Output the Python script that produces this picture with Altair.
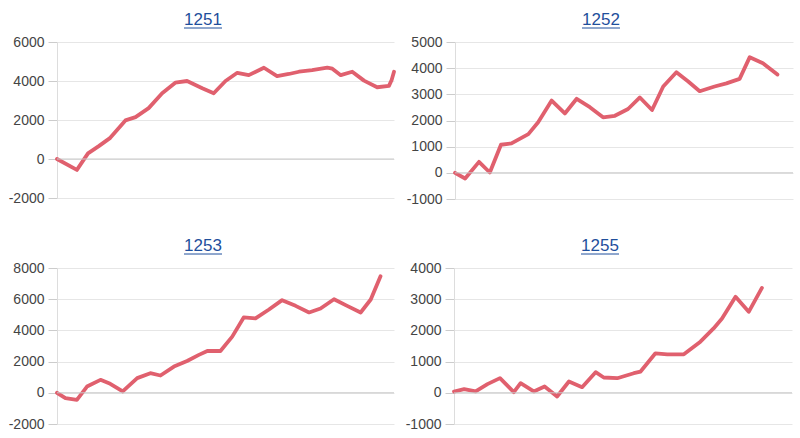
import altair as alt
import pandas as pd

# ---- data (x = trade index, y = cumulative profit) ----
x_1251 = [0, 5.9, 9.2, 12.4, 15.8, 20.3, 23.3, 27.2, 31.2, 35.1, 38.6, 43.1, 46.5, 50.0, 53.5,
          56.9, 61.4, 65.3, 68.8, 71.8, 75.7, 80.2, 81.7, 84.2, 87.6, 91.1, 95.0, 98.5, 99.3, 100]
y_1251 = [0, -560, 290, 660, 1085, 1980, 2150, 2610, 3370, 3915, 4000, 3630, 3370, 4000, 4420,
          4300, 4680, 4250, 4360, 4475, 4560, 4680, 4630, 4300, 4475, 4020, 3680, 3750, 4050, 4475]

x_1252 = [0, 3.0, 7.1, 10.3, 13.6, 16.7, 21.7, 24.6, 28.6, 32.5, 36.0, 39.9, 43.8, 47.3, 51.2,
          54.7, 58.3, 61.6, 65.5, 69.0, 72.4, 76.8, 80.3, 84.2, 87.2, 91.1, 95.4]
y_1252 = [0, -217, 420, 13, 1073, 1124, 1480, 1930, 2760, 2270, 2830, 2510, 2120, 2180, 2440,
          2880, 2400, 3300, 3845, 3490, 3120, 3300, 3420, 3590, 4420, 4190, 3755]

x_1253 = [0, 2.5, 5.9, 8.9, 12.9, 15.8, 19.5, 23.8, 27.7, 30.7, 34.7, 38.6, 42.1, 44.6, 48.5,
          52.0, 55.4, 58.9, 62.9, 66.8, 70.8, 74.8, 78.2, 82.2, 86.1, 90.1, 93.1, 96.0]
y_1253 = [0, -340, -450, 400, 830, 575, 85, 940, 1255, 1110, 1680, 2040, 2430, 2680, 2680,
          3600, 4830, 4770, 5340, 5940, 5575, 5150, 5405, 6000, 5575, 5150, 5980, 7470]

x_1255 = [0, 3.0, 6.4, 9.9, 13.6, 17.7, 19.7, 23.6, 26.8, 30.5, 34.0, 37.9, 41.9, 44.3, 48.3,
          53.2, 55.2, 59.6, 63.1, 68.0, 72.9, 76.8, 79.3, 83.3, 87.2, 91.1]
y_1255 = [40, 117, 43, 277, 470, 21, 309, 43, 202, -117, 362, 181, 660, 490, 468,
          628, 681, 1266, 1234, 1234, 1638, 2064, 2383, 3075, 2596, 3362]

panels = [
    ("1251", x_1251, y_1251, [-2000, 6000], [-2000, 0, 2000, 4000, 6000], 337, 156),
    ("1252", x_1252, y_1252, [-1000, 5000], [-1000, 0, 1000, 2000, 3000, 4000, 5000], 338, 157),
    ("1253", x_1253, y_1253, [-2000, 8000], [-2000, 0, 2000, 4000, 6000, 8000], 337, 156),
    ("1255", x_1255, y_1255, [-1000, 4000], [-1000, 0, 1000, 2000, 3000, 4000], 338, 156),
]

LINE = "#e0606e"
TITLE = "#1f4f9c"
FONT = "Liberation Sans"


def panel(name, xs, ys, dom, ticks, w, h):
    df = pd.DataFrame({"x": xs, "y": ys})
    yaxis = alt.Axis(values=ticks, title=None,
                     labelExpr="datum.value + ''",
                     labelFont=FONT, labelFontSize=14, labelColor="#444",
                     labelOverlap=False, labelFlush=False,
                     tickSize=9, tickColor="#cccccc", labelPadding=4,
                     domainColor="#dddddd", gridColor="#e6e6e6")
    yscale = alt.Scale(domain=dom, nice=False, zero=False)
    line = alt.Chart(df).mark_line(color=LINE, strokeWidth=3.8, strokeJoin="round",
                                   strokeCap="round").encode(
        x=alt.X("x:Q", scale=alt.Scale(domain=[0, 100], nice=False), axis=None),
        y=alt.Y("y:Q", scale=yscale, axis=yaxis),
    )
    zero = alt.Chart(pd.DataFrame({"y": [0]})).mark_rule(color="#c8c8c8", strokeWidth=1).encode(
        y=alt.Y("y:Q", scale=yscale, axis=yaxis)
    )
    tdf = pd.DataFrame({"t": [name]})
    title = alt.Chart(tdf).mark_text(font=FONT, fontSize=17, color=TITLE, align="center",
                                     baseline="alphabetic").encode(
        text="t:N", x=alt.value(146), y=alt.value(-17))
    uline = alt.Chart(tdf).mark_rule(color=TITLE, strokeWidth=1).encode(
        x=alt.value(127), x2=alt.value(165), y=alt.value(-14))
    return alt.layer(line, zero, title, uline).properties(width=w, height=h)


charts = [panel(*p) for p in panels]
row1 = alt.hconcat(charts[0], charts[1], spacing=10)
row2 = alt.hconcat(charts[2], charts[3], spacing=10)
chart = alt.vconcat(row1, row2, spacing=31).properties(
    padding={"left": 8, "top": 11, "right": 5, "bottom": 5},
    background="white",
).configure_view(stroke=None)

chart.save("out.html", embed_options={"renderer": "svg", "actions": False})
